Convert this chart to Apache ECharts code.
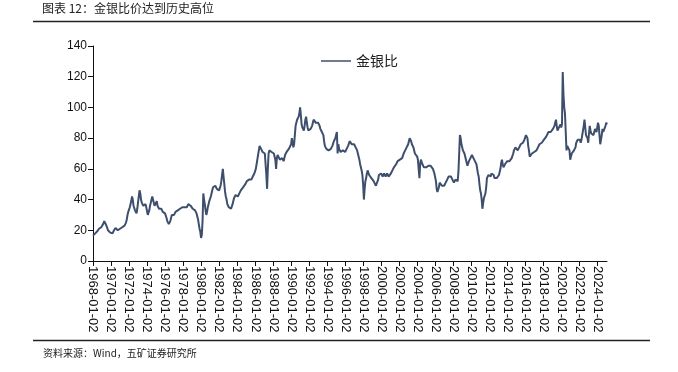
<!DOCTYPE html>
<html><head><meta charset="utf-8">
<script src="https://cdn.jsdelivr.net/npm/echarts@6/dist/echarts.min.js"></script>
<style>html,body{margin:0;padding:0;background:#fff}#c{width:678px;height:372px}</style>
</head><body><div id="c"></div>
<script>
// Monthly gold/silver ratio (start 1968-01)
const ratio1960s = [
16.5,17.5,17,18,19,18.5,19.5,20,21,20,21.5,22,
22,23,24.5,26,25,24,23,21.5,20,19.5,19,18.5];
const ratio1970s = [
18.5,19,18,19,20,21,21.5,20.5,21,20,20.5,21,
21,21.5,22,22,22.5,23,23,24,25,27,30,32,
33,35,37,39,42,40,36,35,33,32,31,34,
38,42,46,44,40,38,37,36,35,36,37,35,
34,30,29,33,36,38,40,42,41,38,36,35,
37,39,36,35,34,33,35,34,33,32,33,32,
31,30,28,26,25,24,24.5,26,28,30,30.5,30,
30,31,32,31,32,33,32,33,34,34,35,35,
34,35,35,36,36,35,36,37,38,37,36,35,
35,34,34,33,33,32,31,30,27,24,21,19];
const ratio1980s = [
15,17,26,44,40,37,33,30,32,35,37,39,
40,42,44,46,48,47,48,49,48,47,48,46,
46,47,49,52,56,60,55,50,45,42,40,37,
36,35,34,35,34,35,37,39,41,42,43,42,
42,42,43,44,45,46,46,47,48,49,49,50,
51,52,52,53,53,54,54,53,54,55,56,57,
58,60,63,66,69,72,75,74,73,72,71,72,
71,70,69,56,47,60,70,72,71,72,71,72,
71,70,69,66,60,67,69,70,68,66,65,66,
67,66,65,67,69,70,71,72,71,73,74,73];
const ratio1990s = [
76,80,77,74,76,82,88,90,92,93,94,96,
100,95,89,87,86,85,88,92,94,90,87,85,
84,85,86,87,88,90,92,93,91,90,91,90,
90,89,88,86,85,84,83,82,78,75,74,73,
72,73,72,71,72,73,74,75,76,78,79,80,
82,84,70,76,73,72,71,70,71,72,72,71,
71,72,73,74,75,76,78,78,77,76,75,76,
76,75,74,73,72,73,72,66,63,61,59,56,
50,40,47,52,54,57,59,58,56,55,55,54,
54,53,52,52,51,49,48,50,53,56,57,57];
const ratio2000s = [
57,56,55,56,57,56,55,56,57,56,55,56,
56,57,58,59,60,61,61,62,63,64,65,66,
65,66,65,66,67,68,70,71,72,73,74,75,
76,78,80,79,78,76,75,74,72,70,71,70,
68,66,60,54,63,66,65,63,62,61,62,61,
61,62,61,62,63,63,62,61,61,60,59,57,
56,52,47,45,44,48,51,52,50,49,49,48,
49,50,51,52,53,54,55,54,54,55,54,53,
52,51,52,53,54,53,52,58,70,82,80,76,
74,72,71,70,68,66,64,62,63,65,66,67];
const ratio2010s = [
68,69,70,67,66,65,64,63,60,57,55,50,
46,44,40,34,38,41,42,44,48,54,55,56,
57,56,55,57,58,57,56,54,53,53,54,55,
55,56,57,60,64,66,63,61,62,63,62,64,
65,66,65,65,66,65,67,68,70,72,73,74,
75,73,72,73,74,75,76,77,76,77,78,79,
80,82,83,80,75,72,68,67,69,70,70,71,
71,72,71,72,73,74,75,76,75,76,77,78,
78,79,80,80,81,80,82,84,85,84,84,85,
85,86,87,88,90,92,88,85,86,87,88,89];
const ratio2020s = [
87,89,123,108,100,96,84,72,75,76,74,72,
66,68,70,69,71,72,73,74,77,78,79,80,
79,79,77,79,82,85,88,92,93,82,83,80,
77,83,88,85,83,84,84,82,83,86,86,84,
87,90,88,82,76,77,82,86,84,83,85,88,
90,89];
const startYear = 1968;
const yTicks = [0, 20, 40, 60, 80, 100, 120, 140];
const seriesName = '金银比';
const titleText = '图表 12：金银比价达到历史高位';
const sourceText = '资料来源：Wind，五矿证券研究所';

const values = [].concat(ratio1960s, ratio1970s, ratio1980s, ratio1990s, ratio2000s, ratio2010s, ratio2020s);
const dates = values.map((v, i) => {
  const y = startYear + Math.floor(i / 12);
  const m = (i % 12) + 1;
  return y + '-' + (m < 10 ? '0' + m : m) + '-02';
});

const chart = echarts.init(document.getElementById('c'), null, {renderer: 'canvas'});
const font = 'Liberation Sans, Arial, sans-serif';
const cjk = '"Noto Sans CJK SC", sans-serif';
chart.setOption({
  animation: false,
  backgroundColor: '#fff',
  graphic: [
    {type: 'text', left: 42, top: 2, style: {text: titleText, font: '12px ' + cjk, fill: '#222'}},
    {type: 'line', shape: {x1: 33, y1: 21.5, x2: 650, y2: 21.5}, style: {stroke: '#222', lineWidth: 1.5}},
    {type: 'line', shape: {x1: 33, y1: 340.5, x2: 650, y2: 340.5}, style: {stroke: '#222', lineWidth: 1.5}},
    {type: 'text', left: 43, top: 348, style: {text: sourceText, font: '10px ' + cjk, fill: '#222'}}
  ],
  legend: {
    data: [seriesName], left: 316, top: 49, icon: 'rect', itemWidth: 30, itemHeight: 1.5, itemGap: 6,
    textStyle: {fontFamily: cjk, fontSize: 14, color: '#222'}
  },
  grid: {left: 93, right: 71, top: 46, bottom: 111, containLabel: false},
  xAxis: {
    type: 'category', data: dates, boundaryGap: false,
    axisLine: {lineStyle: {color: '#111', width: 1}},
    axisTick: {interval: 23, length: 5, lineStyle: {color: '#111'}},
    axisLabel: {interval: 23, rotate: -90, fontFamily: font, fontSize: 13, color: '#111', margin: 5}
  },
  yAxis: {
    type: 'value', min: yTicks[0], max: yTicks[yTicks.length - 1], interval: 20,
    axisLine: {show: true, lineStyle: {color: '#111', width: 1}},
    axisTick: {show: true, length: 5, lineStyle: {color: '#111'}},
    splitLine: {show: false},
    axisLabel: {fontFamily: font, fontSize: 12, color: '#111', margin: 6}
  },
  series: [{
    name: seriesName, type: 'line', data: values, showSymbol: false, symbol: 'none',
    lineStyle: {color: '#3e4f6d', width: 2}, itemStyle: {color: '#3e4f6d'}
  }]
});
</script></body></html>
